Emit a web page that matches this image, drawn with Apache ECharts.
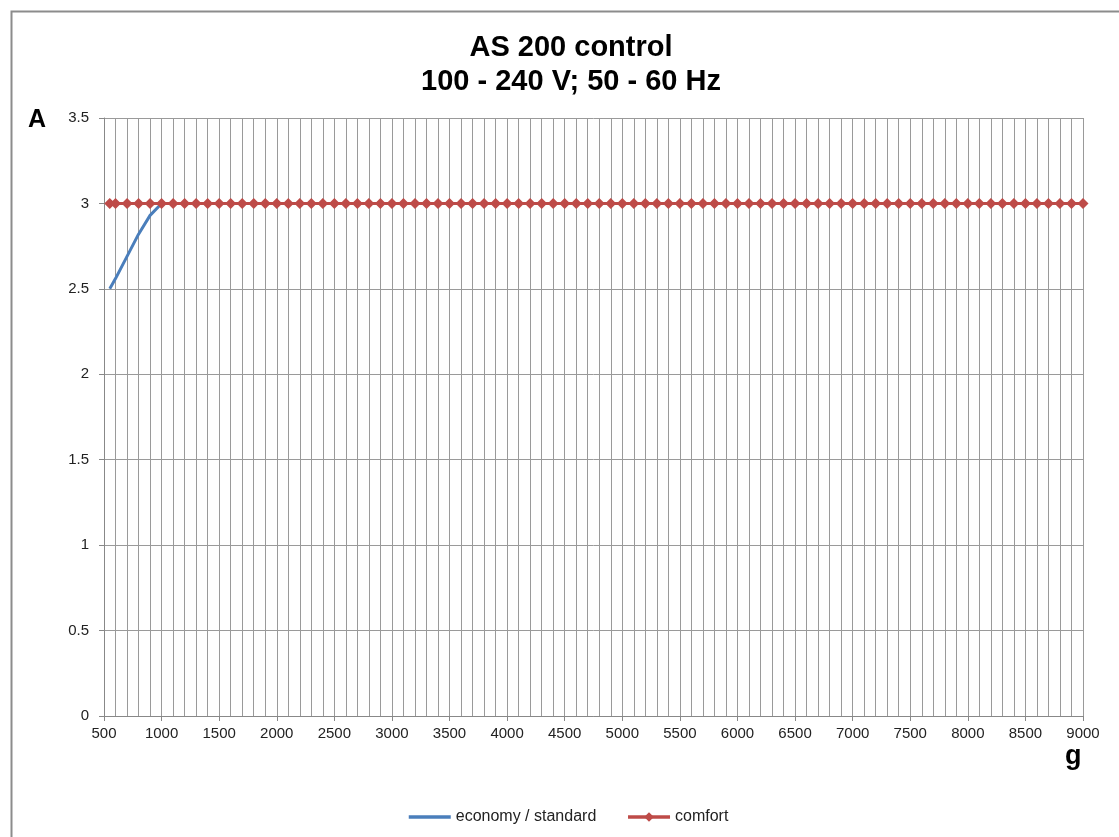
<!DOCTYPE html>
<html>
<head>
<meta charset="utf-8">
<script src="https://cdn.jsdelivr.net/npm/echarts@6/dist/echarts.min.js"></script>
<style>
  html, body { margin: 0; padding: 0; background: #fff; }
  #chart { width: 1119px; height: 837px; }
</style>
</head>
<body>
<div id="chart"></div>
<script>
// load in g, current in A
const weightsEconomy = [550, 600, 700, 800, 900, 1000];
const economyA = [2.5, 2.56, 2.69, 2.82, 2.93, 3.0];

const weightsComfort = [
  550, 600, 700, 800, 900, 1000, 1100, 1200, 1300, 1400, 1500,
  1600, 1700, 1800, 1900, 2000, 2100, 2200, 2300, 2400, 2500,
  2600, 2700, 2800, 2900, 3000, 3100, 3200, 3300, 3400, 3500,
  3600, 3700, 3800, 3900, 4000, 4100, 4200, 4300, 4400, 4500,
  4600, 4700, 4800, 4900, 5000, 5100, 5200, 5300, 5400, 5500,
  5600, 5700, 5800, 5900, 6000, 6100, 6200, 6300, 6400, 6500,
  6600, 6700, 6800, 6900, 7000, 7100, 7200, 7300, 7400, 7500,
  7600, 7700, 7800, 7900, 8000, 8100, 8200, 8300, 8400, 8500,
  8600, 8700, 8800, 8900, 9000
];
const comfortA = [
  3, 3, 3, 3, 3, 3, 3, 3, 3, 3, 3,
  3, 3, 3, 3, 3, 3, 3, 3, 3, 3,
  3, 3, 3, 3, 3, 3, 3, 3, 3, 3,
  3, 3, 3, 3, 3, 3, 3, 3, 3, 3,
  3, 3, 3, 3, 3, 3, 3, 3, 3, 3,
  3, 3, 3, 3, 3, 3, 3, 3, 3, 3,
  3, 3, 3, 3, 3, 3, 3, 3, 3, 3,
  3, 3, 3, 3, 3, 3, 3, 3, 3, 3,
  3, 3, 3, 3, 3
];

const gridColor = "#9a9a9a";
const labelFont = "Liberation Sans";

const chart = echarts.init(document.getElementById("chart"));

const option = {
  backgroundColor: "#fff",
  animation: false,
  title: {
    text: "AS 200 control\n100 - 240 V; 50 - 60 Hz",
    left: 566,
    top: 26,
    textAlign: "center",
    textStyle: {
      fontFamily: labelFont,
      fontSize: 29,
      fontWeight: "bold",
      color: "#000",
      lineHeight: 34
    }
  },
  grid: {
    left: 104,
    right: 36,
    top: 118,
    bottom: 121,
    containLabel: false
  },
  legend: {
    bottom: 7,
    left: 402,
    itemWidth: 42,
    itemHeight: 12,
    itemGap: 30,
    lineStyle: { width: 3.5 },
    textStyle: { fontFamily: labelFont, fontSize: 16, color: "#222" },
    data: [
      { name: "economy / standard", itemStyle: { opacity: 0 } },
      "comfort"
    ]
  },
  xAxis: {
    type: "value",
    min: 500,
    max: 9000,
    interval: 500,
    axisLine: { show: true, lineStyle: { color: "#888", width: 1 } },
    axisTick: { show: true, length: 5, lineStyle: { color: "#888" } },
    minorTick: { show: false, splitNumber: 5 },
    splitLine: { show: true, lineStyle: { color: gridColor, width: 1 } },
    minorSplitLine: { show: true, lineStyle: { color: gridColor, width: 1 } },
    axisLabel: {
      margin: 10,
      fontFamily: labelFont,
      fontSize: 15,
      color: "#222",
      showMinLabel: true,
      showMaxLabel: true,
      formatter: (v) => String(v)
    }
  },
  yAxis: {
    type: "value",
    min: 0,
    max: 3.5,
    interval: 0.5,
    axisLine: { show: true, lineStyle: { color: "#888", width: 1 } },
    axisTick: { show: true, length: 5, lineStyle: { color: "#888" } },
    splitLine: { show: true, lineStyle: { color: gridColor, width: 1 } },
    axisLabel: {
      margin: 15,
      fontFamily: labelFont,
      fontSize: 15,
      color: "#222"
    }
  },
  graphic: [
    {
      type: "rect",
      shape: { x: 11.5, y: 11.5, width: 1120, height: 840 },
      style: { fill: null, stroke: "#8c8c8c", lineWidth: 2 },
      silent: true
    },
    {
      type: "text",
      left: 28,
      top: 108,
      style: { text: "A", font: "bold 25px 'Liberation Sans'", fill: "#000" }
    },
    {
      type: "text",
      left: 1065,
      top: 743,
      style: { text: "g", font: "bold 27px 'Liberation Sans'", fill: "#000" }
    }
  ],
  series: [
    {
      name: "economy / standard",
      type: "line",
      data: weightsEconomy.map((w, i) => [w, economyA[i]]),
      symbol: "none",
      lineStyle: { color: "#4a7ebb", width: 3 },
      itemStyle: { color: "#4a7ebb" },
      z: 2
    },
    {
      name: "comfort",
      type: "line",
      data: weightsComfort.map((w, i) => [w, comfortA[i]]),
      symbol: "diamond",
      symbolSize: 11,
      lineStyle: { color: "#be4b48", width: 3 },
      itemStyle: { color: "#be4b48" },
      z: 3
    }
  ]
};

chart.setOption(option);
</script>
</body>
</html>
